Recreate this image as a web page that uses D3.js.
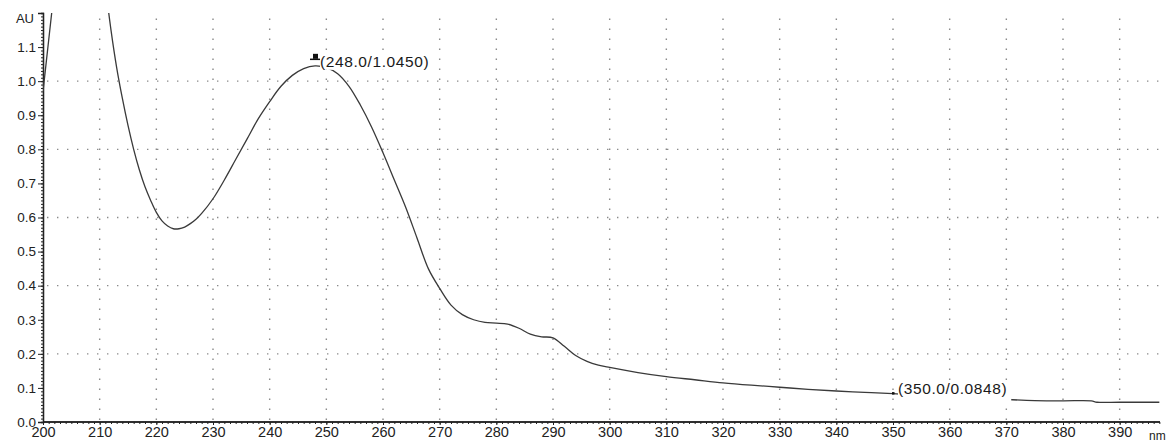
<!DOCTYPE html>
<html lang="en">

<head>
	<meta charset="UTF-8">
	<title>UV Spectrum</title>
	<script src="https://cdn.jsdelivr.net/npm/d3@7"></script>
	<style>
		body { margin: 0; background: #fff; }
		text { font-family: Arial, 'Liberation Sans', sans-serif; }
	</style>
</head>

<body>
	<svg id="viz"></svg>

	<script>
		// Data ---
		const wavelength = [200, 201, 202, 203, 210, 211, 212, 213, 214, 215, 216, 217, 218, 219, 220, 221, 222, 223, 224, 225, 226, 227, 228, 230, 232, 234, 236, 238, 240, 242, 244, 246, 248, 250, 252, 254, 256, 258, 260, 262, 264, 266, 268, 270, 272, 274, 276, 278, 280, 282, 284, 286, 288, 290, 292, 294, 296, 298, 300, 305, 310, 315, 320, 325, 330, 335, 340, 345, 350, 355, 360, 365, 370, 375, 380, 385, 386, 390, 397];
		const absorbance = [0.97, 1.12, 1.27, 1.42, 1.42, 1.28, 1.15, 1.04, 0.95, 0.87, 0.80, 0.74, 0.69, 0.65, 0.615, 0.59, 0.575, 0.567, 0.567, 0.572, 0.582, 0.595, 0.612, 0.655, 0.71, 0.77, 0.83, 0.89, 0.94, 0.985, 1.017, 1.037, 1.045, 1.04, 1.022, 0.985, 0.93, 0.865, 0.79, 0.71, 0.63, 0.54, 0.45, 0.392, 0.343, 0.315, 0.30, 0.292, 0.29, 0.287, 0.275, 0.258, 0.25, 0.247, 0.222, 0.195, 0.178, 0.167, 0.16, 0.145, 0.133, 0.124, 0.115, 0.108, 0.102, 0.096, 0.091, 0.087, 0.083, 0.078, 0.074, 0.070, 0.066, 0.063, 0.062, 0.062, 0.058, 0.058, 0.058];
		const xTicks = [200, 210, 220, 230, 240, 250, 260, 270, 280, 290, 300, 310, 320, 330, 340, 350, 360, 370, 380, 390];
		const yTicks = [0.0, 0.1, 0.2, 0.3, 0.4, 0.5, 0.6, 0.7, 0.8, 0.9, 1.0, 1.1];
		const yGrid = [0.2, 0.4, 0.6, 0.8, 1.0];
		const peaks = [
			{ nm: 248.0, au: 1.0450, label: '(248.0/1.0450)', type: 'flag' },
			{ nm: 350.0, au: 0.0848, label: '(350.0/0.0848)', type: 'dot' }
		];

		// Dimensions ---
		const svgWidth = 1167, svgHeight = 443;
		const plotLeft = 43, plotRight = 1165, plotTop = 13, plotBottom = 422;
		const ink = '#222';

		const svg = d3.select('#viz')
			.attr('width', svgWidth)
			.attr('height', svgHeight);

		// Scales ---
		const x = d3.scaleLinear().domain([200, 398]).range([plotLeft, plotRight]);
		const y = d3.scaleLinear().domain([0, 1.2]).range([plotBottom, plotTop]);

		// Grid ---
		svg.append('g')
			.selectAll('line')
			.data(xTicks.slice(1))
			.join('line')
			.attr('x1', d => x(d)).attr('x2', d => x(d))
			.attr('y1', plotBottom - 2).attr('y2', plotTop)
			.attr('stroke', '#8a8a8a')
			.attr('stroke-width', 1.4)
			.attr('stroke-dasharray', '1.4 8.6');

		svg.append('g')
			.selectAll('line')
			.data(yGrid)
			.join('line')
			.attr('x1', plotLeft + 4).attr('x2', 1162)
			.attr('y1', d => y(d)).attr('y2', d => y(d))
			.attr('stroke', '#8a8a8a')
			.attr('stroke-width', 1.4)
			.attr('stroke-dasharray', '1.4 8.6');

		// Axes ---
		const xMinor = svg.append('g')
			.attr('transform', `translate(0,${plotBottom})`)
			.call(d3.axisBottom(x).tickValues(d3.range(200, 398, 1)).tickSize(2).tickFormat(''));
		const xMajor = svg.append('g')
			.attr('transform', `translate(0,${plotBottom})`)
			.call(d3.axisBottom(x).tickValues(xTicks).tickSize(3).tickPadding(2).tickFormat(d3.format('d')));
		const yMinor = svg.append('g')
			.attr('transform', `translate(${plotLeft},0)`)
			.call(d3.axisLeft(y).tickValues(d3.range(0, 1.2, 0.01)).tickSize(2).tickFormat(''));
		const yMajor = svg.append('g')
			.attr('transform', `translate(${plotLeft},0)`)
			.call(d3.axisLeft(y).tickValues(yTicks).tickSize(5).tickPadding(2).tickFormat(d3.format('.1f')));

		[xMinor, xMajor, yMinor, yMajor].forEach(g => {
			g.select('.domain').attr('stroke', ink).attr('stroke-width', 1.3);
			g.selectAll('.tick line').attr('stroke', ink);
			g.selectAll('.tick text')
				.attr('fill', ink)
				.style('font-size', '14.5px');
		});
		yMajor.selectAll('.tick text').style('font-size', '13.5px');
		xMajor.select('.domain').attr('d', `M${plotLeft},0H1160`);
		xMinor.select('.domain').attr('d', `M${plotLeft},0H1160`);

		// Axis units ---
		svg.append('text')
			.attr('x', 34).attr('y', 23)
			.attr('text-anchor', 'end')
			.attr('fill', ink)
			.style('font-size', '13px')
			.text('AU');
		svg.append('text')
			.attr('x', 1149).attr('y', 440)
			.attr('fill', ink)
			.style('font-size', '12px')
			.text('nm');

		// Spectrum ---
		svg.append('clipPath')
			.attr('id', 'plotClip')
			.append('rect')
			.attr('x', plotLeft).attr('y', plotTop)
			.attr('width', plotRight - plotLeft).attr('height', plotBottom - plotTop);

		svg.append('path')
			.datum(wavelength.map((w, i) => [w, absorbance[i]]))
			.attr('clip-path', 'url(#plotClip)')
			.attr('fill', 'none')
			.attr('stroke', '#3a3a3a')
			.attr('stroke-width', 1.3)
			.attr('d', d3.line().x(d => x(d[0])).y(d => y(d[1])).curve(d3.curveCatmullRom.alpha(0.5)));

		// Peak labels ---
		const peakG = svg.append('g')
			.selectAll('g')
			.data(peaks)
			.join('g')
			.attr('transform', d => `translate(${x(d.nm)},${y(d.au)})`);

		peakG.each(function (d) {
			const g = d3.select(this);
			const label = g.append('text')
				.attr('x', 5).attr('y', 1)
				.attr('fill', '#1a1a1a')
				.style('font-size', '15.5px')
				.style('letter-spacing', '0.6px')
				.text(d.label);
			const box = label.node().getBBox();
			g.insert('rect', 'text')
				.attr('x', box.x).attr('y', box.y)
				.attr('width', box.width + 4).attr('height', box.height + (d.type === 'dot' ? 7 : 0))
				.attr('fill', '#fff');
			if (d.type === 'flag') {
				g.append('rect')
					.attr('x', -2).attr('y', -12)
					.attr('width', 5).attr('height', 5)
					.attr('fill', '#111');
				g.append('line')
					.attr('x1', -5).attr('x2', 5)
					.attr('y1', -6.5).attr('y2', -6.5)
					.attr('stroke', '#111').attr('stroke-width', 1.5);
			} else {
				g.append('rect')
					.attr('x', -1).attr('y', -1)
					.attr('width', 2.5).attr('height', 2.5)
					.attr('fill', '#111');
			}
		});
	</script>
</body>

</html>
